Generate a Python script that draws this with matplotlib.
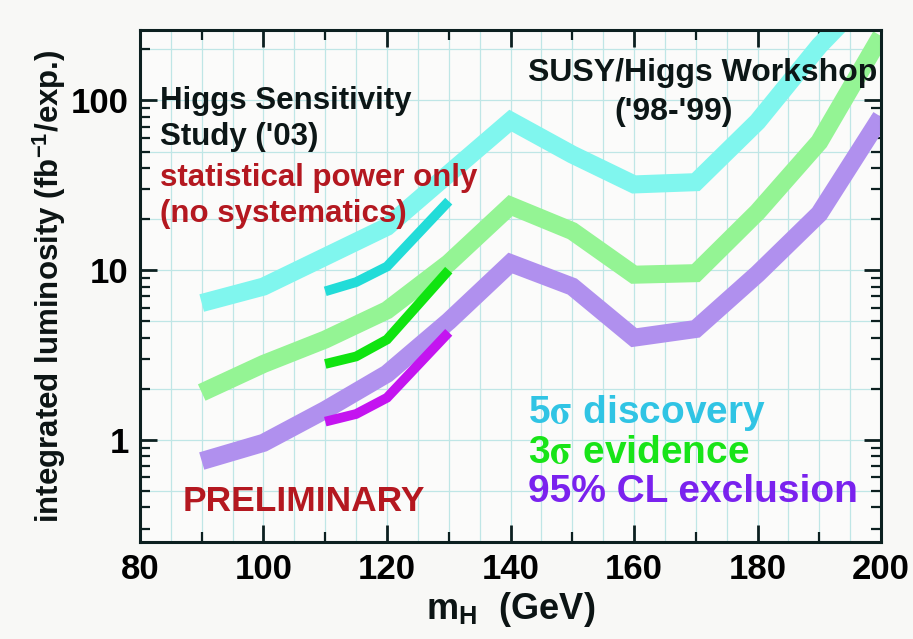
import matplotlib
matplotlib.use('Agg')

import matplotlib.pyplot as plt
from matplotlib.ticker import FixedLocator, NullFormatter

plt.rcParams['font.family'] = ['Liberation Sans', 'DejaVu Sans']
plt.rcParams['font.weight'] = 'bold'
plt.rcParams['axes.labelweight'] = 'bold'
plt.rcParams['mathtext.fontset'] = 'stix'

# SUSY/Higgs Workshop ('98-'99) curves
mass = [90, 100, 110, 120, 130, 140, 150, 160, 170, 180, 190, 200]
disc_5sigma = [6.4, 8.0, 12.0, 18.0, 37.0, 76.0, 48.0, 32.0, 33.0, 75.0, 210.0, 500.0]
evid_3sigma = [1.9, 2.8, 3.9, 5.8, 11.0, 24.0, 17.0, 9.4, 9.6, 22.0, 57.0, 240.0]
excl_95cl = [0.75, 0.96, 1.5, 2.45, 5.0, 11.0, 8.0, 4.0, 4.5, 9.5, 21.5, 80.0]

# Higgs Sensitivity Study ('03) curves
mass_03 = [110, 115, 120, 130]
disc_03 = [7.5, 8.5, 10.5, 25.5]
evid_03 = [2.8, 3.1, 3.9, 10.0]
excl_03 = [1.28, 1.42, 1.77, 4.3]

fig = plt.figure(figsize=(9.13, 6.39), dpi=100)
fig.patch.set_facecolor('#f8f8f6')
ax = fig.add_axes([0.1533, 0.1518, 0.8117, 0.8012])
ax.set_facecolor('#fbfbfa')

ax.set_xlim(80, 200)
ax.set_yscale('log')
ax.set_ylim(0.25, 260)

# grid: every 5 GeV, and 1-2-5 in y
for gx in range(85, 200, 5):
    ax.axvline(gx, color='#bfe6e6', lw=0.9, zorder=0)
for dec in [0.1, 1, 10, 100]:
    for m in [1, 2, 5]:
        gy = dec * m
        if 0.25 < gy < 260:
            ax.axhline(gy, color='#bfe6e6', lw=0.9, zorder=0)

band = dict(lw=13, solid_joinstyle='miter', solid_capstyle='butt', zorder=2)
ax.plot(mass, disc_5sigma, color='#80f6ee', **band)
ax.plot(mass, evid_3sigma, color='#94f494', **band)
ax.plot(mass, excl_95cl, color='#b090ee', **band)

thin = dict(lw=7, solid_joinstyle='miter', solid_capstyle='butt', zorder=3)
ax.plot(mass_03, disc_03, color='#22dcd8', **thin)
ax.plot(mass_03, evid_03, color='#10e410', **thin)
ax.plot(mass_03, excl_03, color='#c414f0', **thin)

# ticks
ax.xaxis.set_major_locator(FixedLocator([80, 100, 120, 140, 160, 180, 200]))
ax.xaxis.set_minor_locator(FixedLocator([90, 110, 130, 150, 170, 190]))
ax.yaxis.set_major_locator(FixedLocator([1, 10, 100]))
minors = [d * m for d in [0.1, 1, 10, 100] for m in range(2, 10)]
ax.yaxis.set_minor_locator(FixedLocator([v for v in minors if 0.25 <= v <= 260]))
ax.yaxis.set_minor_formatter(NullFormatter())
ax.set_yticklabels(['1', '10', '100'])
ax.tick_params(which='both', direction='in', top=True, right=True,
               color='#0c2020', labelsize=25, pad=8)
ax.tick_params(which='major', length=12, width=2)
ax.tick_params(which='minor', length=7, width=1.6)
for sp in ax.spines.values():
    sp.set_linewidth(2.2)
    sp.set_color('#0c2020')
    sp.set_zorder(5)

ax.set_xlabel(r'm$_\mathregular{H}$  (GeV)', fontsize=26, labelpad=3, color='#0c1414')
ax.set_ylabel(r'integrated luminosity (fb$^\mathregular{-1}$/exp.)', fontsize=22.5,
              labelpad=2, color='#0c1414')

black = '#0c1616'
red = '#b41820'
ax.text(0.027, 0.845, 'Higgs Sensitivity', transform=ax.transAxes, fontsize=22.5, color=black)
ax.text(0.027, 0.775, "Study ('03)", transform=ax.transAxes, fontsize=22.5, color=black)
ax.text(0.027, 0.695, 'statistical power only', transform=ax.transAxes, fontsize=22.5, color=red)
ax.text(0.027, 0.625, '(no systematics)', transform=ax.transAxes, fontsize=22.5, color=red)

ax.text(0.995, 0.9, 'SUSY/Higgs Workshop', transform=ax.transAxes, fontsize=23,
        color=black, ha='right')
ax.text(0.72, 0.825, "('98-'99)", transform=ax.transAxes, fontsize=23,
        color=black, ha='center')

ax.text(0.523, 0.232, r'5$\mathrm{\sigma}$ discovery', transform=ax.transAxes, fontsize=28, color='#30c4e4')
ax.text(0.523, 0.155, r'3$\mathrm{\sigma}$ evidence', transform=ax.transAxes, fontsize=28, color='#18e418')
ax.text(0.523, 0.078, '95% CL exclusion', transform=ax.transAxes, fontsize=28, color='#7a22ee')

ax.text(0.058, 0.06, 'PRELIMINARY', transform=ax.transAxes, fontsize=25.5, color=red)

plt.savefig('out.png', dpi=100, facecolor=fig.get_facecolor())
plt.close()
